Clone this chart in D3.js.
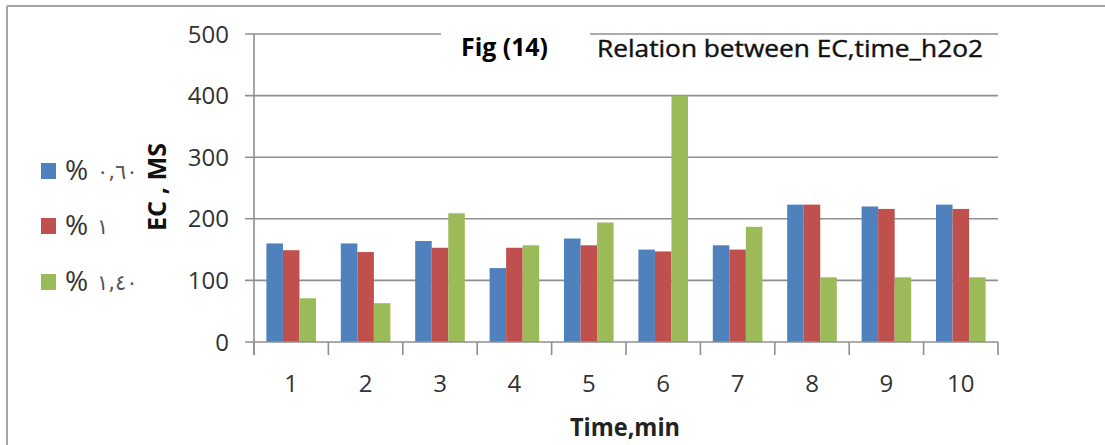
<!DOCTYPE html>
<html><head><meta charset="utf-8">
<script src="https://cdn.jsdelivr.net/npm/d3@7"></script>
<style>html,body{margin:0;padding:0;background:#fff;}svg{display:block;}</style>
</head><body>
<svg id="chart" width="1105" height="445"></svg>
<script>
const categories = ["1","2","3","4","5","6","7","8","9","10"];
const seriesNames = ["٠,٦٠","١","١,٤٠"];
const seriesA = [160,160,164,120,168,150,157,223,220,223];
const seriesB = [149,146,153,153,157,147,150,223,216,216];
const seriesC = [71,63,209,157,194,400,187,105,105,105];
const yTicks = [0,100,200,300,400,500];
const colors = ["#4f81bd","#c0504d","#9bbb59"];
const figLabel = "Fig (14)";
const titleText = "Relation between EC,time_h2o2";
const xTitle = "Time,min";
const yTitle = "EC , MS";

(function(){
const svg = d3.select("#chart");
const pLeft = 254, pRight = 998, pTop = 34, pBottom = 342;
const gridColor = "#8f8f8f";
const font = "'Open Sans', 'Noto Sans', sans-serif";

// frame
svg.append("line").attr("x1",7).attr("x2",1105).attr("y1",6).attr("y2",6).attr("stroke","#a6a6a6").attr("stroke-width",2);
svg.append("line").attr("x1",7).attr("x2",7).attr("y1",6).attr("y2",445).attr("stroke","#a6a6a6").attr("stroke-width",2);

const y = d3.scaleLinear().domain([0,500]).range([pBottom, pTop]);
const x0 = d3.scaleBand().domain(categories).range([pLeft,pRight]).paddingInner(0).paddingOuter(0);
const bw = x0.bandwidth();
const x1 = d3.scaleBand().domain([0,1,2]).range([bw/6, bw*5/6]);

// gridlines
svg.append("g").selectAll("line").data(yTicks.filter(d=>d>0)).join("line")
  .attr("x1",pLeft-9).attr("x2",pRight).attr("y1",d=>y(d)).attr("y2",d=>y(d))
  .attr("stroke",gridColor).attr("stroke-width",1.6);

// y tick labels
svg.append("g").selectAll("text").data(yTicks).join("text")
  .attr("x",229).attr("y",d=>y(d)).attr("dy","0.36em").attr("text-anchor","end")
  .attr("font-family",font).attr("font-size",24).attr("fill","#333").text(d=>d);

// bars
const series = [seriesA, seriesB, seriesC];
series.forEach((vals,si)=>{
  svg.append("g").selectAll("rect").data(vals).join("rect")
    .attr("x",(d,i)=>x0(categories[i])+x1(si))
    .attr("width",x1.bandwidth())
    .attr("y",d=>y(d))
    .attr("height",d=>y(0)-y(d))
    .attr("fill",colors[si]);
});

// axes
svg.append("line").attr("x1",pLeft).attr("x2",pLeft).attr("y1",pTop).attr("y2",pBottom+13).attr("stroke",gridColor).attr("stroke-width",1.6);
svg.append("line").attr("x1",pLeft-9).attr("x2",pRight).attr("y1",pBottom).attr("y2",pBottom).attr("stroke",gridColor).attr("stroke-width",1.6);
const bounds = categories.map(c=>x0(c)).concat([pRight]);
svg.append("g").selectAll("line").data(bounds).join("line")
  .attr("x1",d=>d).attr("x2",d=>d).attr("y1",pBottom).attr("y2",pBottom+13)
  .attr("stroke",gridColor).attr("stroke-width",1.6);

// x labels
svg.append("g").selectAll("text").data(categories).join("text")
  .attr("x",d=>x0(d)+bw/2).attr("y",392).attr("text-anchor","middle")
  .attr("font-family",font).attr("font-size",24).attr("fill","#333").text(d=>d);

// titles
svg.append("rect").attr("x",441).attr("y",22).attr("width",149).attr("height",24).attr("fill","#fff");
svg.append("text").attr("x",461).attr("y",56).attr("font-family",font).attr("font-weight","bold")
  .attr("font-size",25).attr("textLength",87).attr("lengthAdjust","spacingAndGlyphs").attr("fill","#000").text(figLabel);
svg.append("text").attr("x",597).attr("y",57).attr("font-family",font)
  .attr("font-size",23).attr("textLength",386).attr("lengthAdjust","spacingAndGlyphs").attr("fill","#111")
  .attr("stroke","#111").attr("stroke-width",0.4).text(titleText);

svg.append("text").attr("x",625).attr("y",436).attr("text-anchor","middle").attr("font-family",font).attr("font-weight","bold")
  .attr("font-size",25).attr("textLength",110).attr("lengthAdjust","spacingAndGlyphs").attr("fill","#222").text(xTitle);

svg.append("text").attr("transform","translate(166,187) rotate(-90)").attr("text-anchor","middle")
  .attr("font-family",font).attr("font-weight","bold").attr("font-size",25)
  .attr("textLength",88).attr("lengthAdjust","spacingAndGlyphs").attr("fill","#111").text(yTitle);

// legend
const legY = [171,226,282];
seriesNames.forEach((n,i)=>{
  svg.append("rect").attr("x",41).attr("y",legY[i]-8).attr("width",15).attr("height",16).attr("fill",colors[i]);
  svg.append("text").attr("x",65).attr("y",legY[i]+9).attr("font-family",font).attr("font-size",28).attr("fill","#333").text("%");
  svg.append("text").attr("x",97).attr("y",legY[i]+8).attr("direction","ltr").attr("font-family","'DejaVu Sans', sans-serif")
    .attr("font-size",21).attr("letter-spacing",3).attr("fill","#555").text(n);
});
})();
</script>
</body></html>
